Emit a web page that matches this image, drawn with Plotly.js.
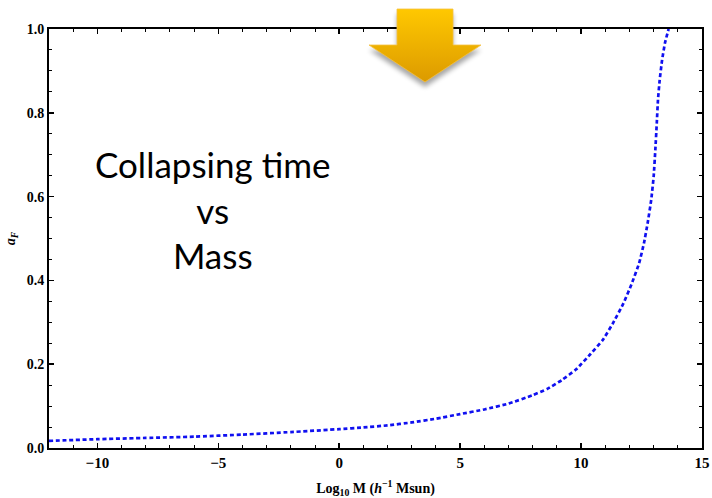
<!DOCTYPE html>
<html>
<head>
<meta charset="utf-8">
<script src="https://cdn.plot.ly/plotly-3.0.1.min.js"></script>
<style>html,body{margin:0;padding:0;background:#fff;}#chart{width:712px;height:498px;}</style>
</head>
<body>
<div id="chart"></div>
<script>
const logMass = [-12, -10, -8, -6, -4, -2, 0, 1, 2, 3, 4, 5, 6, 7, 8, 8.6, 9.2, 9.8, 10.4, 10.9, 11.3, 11.75, 12.1, 12.4, 12.6, 12.75, 12.9, 13.0, 13.07, 13.13, 13.18, 13.25, 13.35, 13.47, 13.62];
const aF = [0.017, 0.021, 0.024, 0.027, 0.032, 0.038, 0.045, 0.049, 0.054, 0.061, 0.070, 0.081, 0.092, 0.106, 0.126, 0.141, 0.162, 0.188, 0.225, 0.258, 0.296, 0.345, 0.393, 0.441, 0.489, 0.536, 0.592, 0.647, 0.711, 0.775, 0.831, 0.878, 0.926, 0.967, 1.0];
const xTicks = [-10, -5, 0, 5, 10, 15];
const xTickText = ['\u221210', '\u22125', '0', '5', '10', '15'];
const yTicks = [0, 0.2, 0.4, 0.6, 0.8, 1.0];
const yTickText = ['0.0', '0.2', '0.4', '0.6', '0.8', '1.0'];
const noteLines = ['Collapsing time', 'vs', 'Mass'];

const arrowSvg = '<svg xmlns="http://www.w3.org/2000/svg" width="130" height="90" viewBox="0 0 130 90">' +
  '<defs><linearGradient id="g" x1="0" y1="0" x2="0" y2="1">' +
  '<stop offset="0" stop-color="#FFC800"/><stop offset="1" stop-color="#DC9A00"/></linearGradient>' +
  '<filter id="s" x="-20%" y="-20%" width="140%" height="160%"><feGaussianBlur stdDeviation="2.5"/></filter></defs>' +
  '<path d="M35,3 L91,3 L91,39 L119,39 L63,76 L7,39 L35,39 Z" fill="#000" opacity="0.35" filter="url(#s)" transform="translate(0,5)"/>' +
  '<path d="M35,3 L91,3 L91,39 L119,39 L63,76 L7,39 L35,39 Z" fill="url(#g)" stroke="#F5C242" stroke-width="0.8"/>' +
  '</svg>';
const arrowUri = 'data:image/svg+xml;base64,' + btoa(arrowSvg);

const trace = {
  x: logMass, y: aF, type: 'scatter', mode: 'lines',
  line: {color: '#1010F0', width: 2.7, dash: '4px,2.7px', shape: 'spline', smoothing: 0.4},
  hoverinfo: 'none'
};

const serif = '"Liberation Serif", "Times New Roman", serif';

const layout = {
  width: 712, height: 498,
  margin: {l: 49, r: 10, t: 29, b: 50},
  paper_bgcolor: '#fff', plot_bgcolor: '#fff',
  showlegend: false,
  xaxis: {
    range: [-12, 15], tickvals: xTicks, ticktext: xTickText,
    ticks: 'inside', ticklen: 5, tickwidth: 1.5, tickcolor: '#000',
    minor: {dtick: 1, ticks: 'inside', ticklen: 3, tickwidth: 1, tickcolor: '#000', showgrid: false},
    showline: true, linewidth: 2, linecolor: '#000', mirror: 'allticks',
    showgrid: false, zeroline: false,
    tickfont: {family: serif, size: 15, color: '#000', weight: 'bold'},
    title: {text: '<b>Log<sub>10</sub> M (<i>h</i><sup>\u22121</sup> Msun)</b>', font: {family: serif, size: 14, color: '#000'}, standoff: 14}
  },
  yaxis: {
    range: [0, 1], tickvals: yTicks, ticktext: yTickText,
    ticks: 'inside', ticklen: 5, tickwidth: 1.5, tickcolor: '#000',
    minor: {dtick: 0.05, ticks: 'inside', ticklen: 3, tickwidth: 1, tickcolor: '#000', showgrid: false},
    showline: true, linewidth: 2, linecolor: '#000', mirror: 'allticks',
    showgrid: false, zeroline: false,
    tickfont: {family: serif, size: 14, color: '#000', weight: 'bold'},
    title: {text: '<b><i>a<sub>F</sub></i></b>', font: {family: serif, size: 14, color: '#000'}, standoff: 8}
  },
  annotations: [{
    xref: 'paper', yref: 'paper', x: (212 - 49) / 653, y: (448 - 209) / 419,
    xanchor: 'center', yanchor: 'middle',
    text: noteLines.join('<br>'), showarrow: false, align: 'center',
    font: {family: 'Lato, "Open Sans", sans-serif', size: 35, color: '#000'}
  }],
  images: [{
    source: arrowUri, xref: 'paper', yref: 'paper',
    x: (362 - 49) / 653, y: (448 - 6) / 419, sizex: 130 / 653, sizey: 90 / 419,
    xanchor: 'left', yanchor: 'top', sizing: 'stretch', layer: 'above'
  }]
};

Plotly.newPlot('chart', [trace], layout, {staticPlot: true, displayModeBar: false});
</script>
</body>
</html>
